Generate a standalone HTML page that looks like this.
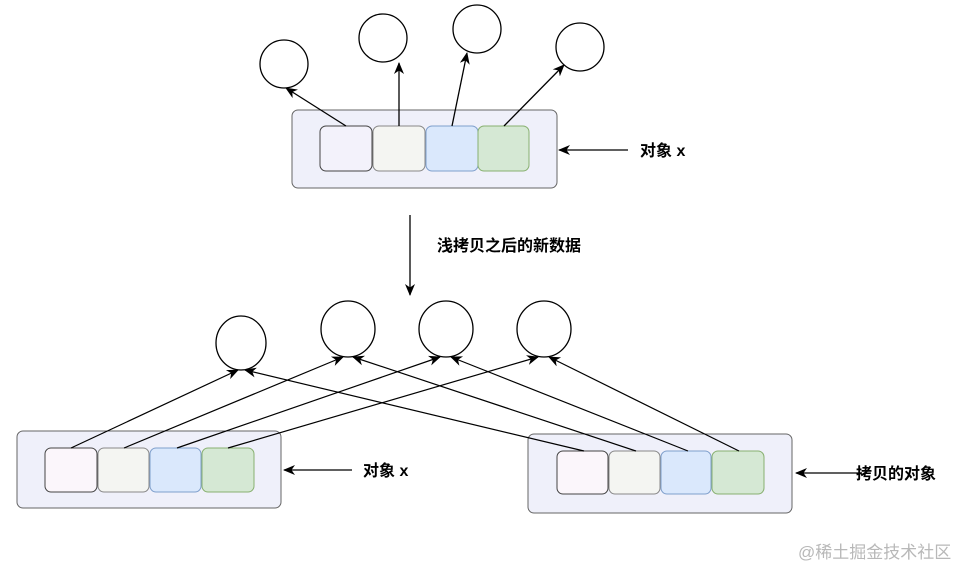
<!DOCTYPE html>
<html><head><meta charset="utf-8"><style>
html,body{margin:0;padding:0;background:#fff;}
svg{display:block;}
text{font-family:"Liberation Sans","Noto Sans CJK SC",sans-serif;}
</style></head><body>
<svg width="976" height="580" viewBox="0 0 976 580" xmlns="http://www.w3.org/2000/svg">
<defs>
<marker id="a" markerWidth="12" markerHeight="12" refX="11" refY="6" orient="auto" markerUnits="userSpaceOnUse">
<path d="M0,1 L12,6 L0,11 L3.5,6 Z" fill="#000"/></marker>
</defs>
<!-- top -->
<rect x="292" y="110" width="265" height="78" rx="6" fill="#eff0fa" stroke="#666"/>
<rect x="320" y="126" width="52" height="45" rx="6" fill="#f3f2fb" stroke="#444"/>
<rect x="373" y="126" width="52" height="45" rx="6" fill="#f4f5f2" stroke="#888"/>
<rect x="426" y="126" width="52" height="45" rx="6" fill="#dae8fc" stroke="#7f9fcc"/>
<rect x="478" y="126" width="51" height="45" rx="6" fill="#d5e8d4" stroke="#88b070"/>
<circle cx="284" cy="64" r="24" fill="#fff" stroke="#000" stroke-width="1.3"/>
<circle cx="383" cy="38" r="24" fill="#fff" stroke="#000" stroke-width="1.3"/>
<circle cx="477" cy="29" r="24" fill="#fff" stroke="#000" stroke-width="1.3"/>
<circle cx="580" cy="47" r="24" fill="#fff" stroke="#000" stroke-width="1.3"/>
<g stroke="#000" stroke-width="1.3" marker-end="url(#a)">
<line x1="346" y1="126" x2="286" y2="88"/>
<line x1="399" y1="126" x2="399" y2="63"/>
<line x1="452" y1="126" x2="467" y2="53"/>
<line x1="504" y1="126" x2="564" y2="65"/>
<line x1="628" y1="150" x2="559" y2="150"/>
<line x1="410" y1="215" x2="410" y2="295"/>
</g>
<text x="640" y="156" font-size="16" font-weight="bold">对象 x</text>
<text x="437" y="251" font-size="16" font-weight="bold">浅拷贝之后的新数据</text>
<!-- bottom -->
<ellipse cx="241" cy="343" rx="25" ry="27" fill="#fff" stroke="#000" stroke-width="1.3"/>
<ellipse cx="348" cy="329" rx="27" ry="28" fill="#fff" stroke="#000" stroke-width="1.3"/>
<ellipse cx="446" cy="329" rx="27" ry="28" fill="#fff" stroke="#000" stroke-width="1.3"/>
<ellipse cx="544" cy="329" rx="27" ry="28" fill="#fff" stroke="#000" stroke-width="1.3"/>
<rect x="17" y="431" width="264" height="77" rx="6" fill="#eff0fa" stroke="#666"/>
<rect x="45" y="448" width="52" height="44" rx="6" fill="#fbf6fb" stroke="#444"/>
<rect x="98" y="448" width="51" height="44" rx="6" fill="#f4f5f2" stroke="#888"/>
<rect x="150" y="448" width="51" height="44" rx="6" fill="#dae8fc" stroke="#7f9fcc"/>
<rect x="202" y="448" width="52" height="44" rx="6" fill="#d5e8d4" stroke="#88b070"/>
<rect x="528" y="434" width="264" height="79" rx="6" fill="#eff0fa" stroke="#666"/>
<rect x="557" y="451" width="51" height="43" rx="6" fill="#fbf6fb" stroke="#444"/>
<rect x="609" y="451" width="51" height="43" rx="6" fill="#f4f5f2" stroke="#888"/>
<rect x="661" y="451" width="50" height="43" rx="6" fill="#dae8fc" stroke="#7f9fcc"/>
<rect x="712" y="451" width="52" height="43" rx="6" fill="#d5e8d4" stroke="#88b070"/>
<g stroke="#000" stroke-width="1.2" marker-end="url(#a)">
<line x1="71" y1="448" x2="238" y2="370"/>
<line x1="124" y1="448" x2="343" y2="357"/>
<line x1="177" y1="448" x2="440" y2="357"/>
<line x1="228" y1="448" x2="538" y2="357"/>
<line x1="584" y1="451" x2="245" y2="370"/>
<line x1="636" y1="451" x2="353" y2="357"/>
<line x1="688" y1="451" x2="451" y2="357"/>
<line x1="739" y1="451" x2="549" y2="357"/>
<line x1="352" y1="470" x2="284" y2="470"/>
<line x1="862" y1="473" x2="796" y2="473"/>
</g>
<text x="363" y="476" font-size="16" font-weight="bold">对象 x</text>
<text x="856" y="479" font-size="16" font-weight="bold">拷贝的对象</text>
<text x="798" y="558" font-size="17" fill="#b8b8b8">@稀土掘金技术社区</text>
</svg>
</body></html>
